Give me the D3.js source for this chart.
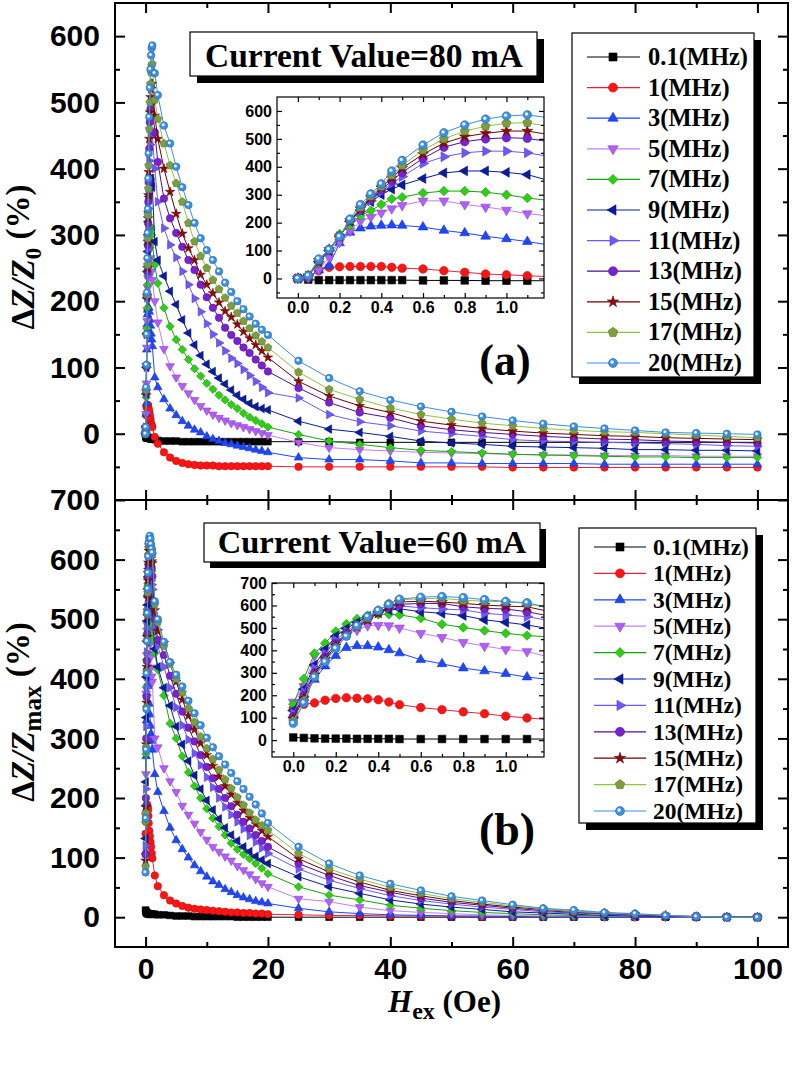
<!DOCTYPE html>
<html>
<head>
<meta charset="utf-8">
<script src="https://cdn.jsdelivr.net/npm/d3@7"></script>
<style>
  body { margin: 0; background: #fff; }
</style>
</head>
<body>
<svg width="792" height="1085"></svg>
<script>
// Значения поля H_ex (Oe), общие для всех кривых
const hex = [0, 0.05, 0.1, 0.15, 0.2, 0.25, 0.3, 0.35, 0.4, 0.45, 0.5,
  0.6, 0.7, 0.8, 0.9, 1.0, 1.1, 1.5, 2,
  3, 4, 5, 6, 7, 8, 9, 10, 11, 12, 13, 14, 15, 16, 17, 18, 19, 20,
  25, 30, 35, 40, 45, 50, 55, 60, 65, 70, 75, 80, 85, 90, 95, 100];

const freqLabels = ["0.1(MHz)", "1(MHz)", "3(MHz)", "5(MHz)", "7(MHz)", "9(MHz)",
  "11(MHz)", "13(MHz)", "15(MHz)", "17(MHz)", "20(MHz)"];

// (a) ток 80 mA, ΔZ/Z0 (%)
const a_f01 = [0,-4,-6,-6,-6,-6,-6,-6,-6,-6,-6, -7,-7,-7,-8,-8,-8, -9,-10,
  -11,-11,-11,-12,-12,-12,-12,-12,-12,-12,-12,-12,-12,-12,-12,-12,-12,-12,
  -12,-12,-13,-13,-13,-13,-13,-13,-13,-13,-13,-13,-13,-13,-13,-13];
const a_f1 = [0,2,28,40,42,43,43,43,43,40,37, 34,28,22,16,13,10, -5,-15,
  -28,-36,-41,-44,-46,-47,-48,-48,-48,-49,-49,-49,-49,-49,-49,-49,-49,-49,
  -50,-50,-50,-50,-50,-50,-50,-51,-51,-51,-51,-51,-51,-51,-51,-51];
const a_f3 = [0,2,30,46,127,165,180,187,190,191,190, 184,172,163,151,142,132, 85,70,
  52,38,28,19,12,6,2,-4,-8,-11,-14,-16,-18,-20,-22,-24,-26,-28,
  -36,-39,-39,-41,-44,-44,-45,-45,-45,-45,-46,-46,-46,-46,-46,-46];
const a_f5 = [0,3,30,76,130,170,205,220,235,250,262, 278,278,265,256,245,232, 200,168,
  128,102,85,72,61,51,42,35,29,24,20,16,13,10,7,4,1,-2,
  -13,-21,-24,-26,-28,-29,-30,-31,-32,-32,-33,-33,-33,-34,-34,-34];
const a_f7 = [0,8,55,100,159,190,225,243,265,285,291, 306,313,313,309,300,288, 255,227,
  190,162,142,127,112,98,87,76,67,58,51,44,38,31,25,20,15,10,
  -1,-11,-16,-21,-25,-27,-29,-31,-32,-33,-34,-35,-35,-36,-36,-36];
const a_f9 = [0,10,60,100,150,205,245,275,300,320,335, 358,378,385,385,380,372, 290,262,
  238,215,195,172,152,134,118,105,94,84,75,66,58,52,46,41,38,36,
  19,7,2,-4,-11,-14,-16,-19,-20,-21,-22,-24,-24,-25,-25,-26];
const a_f11 = [0,10,60,100,150,205,240,278,310,340,365, 412,436,450,456,456,450, 400,350,
  310,285,266,245,225,204,184,166,150,137,125,114,106,97,88,79,70,62,
  54,29,18,12,4,0,-4,-9,-11,-12,-13,-14,-15,-16,-18,-19];
const a_f13 = [0,10,62,102,150,207,245,285,318,350,380, 430,470,490,500,504,502, 455,410,
  355,325,303,282,262,247,225,206,190,175,160,149,140,130,122,112,103,94,
  69,47,32,24,12,6,2,-1,-4,-6,-8,-9,-11,-12,-13,-14];
const a_f15 = [0,10,64,104,150,208,250,290,325,360,395, 445,485,508,520,528,528, 480,445,
  400,365,332,302,280,262,240,225,212,198,185,176,165,154,144,134,125,115,
  79,57,42,32,19,13,8,4,1,-1,-3,-4,-6,-7,-8,-9];
const a_f17 = [0,10,66,104,150,210,255,295,330,370,405, 460,500,528,545,556,558, 504,475,
  438,405,378,350,318,290,268,250,232,218,205,193,182,170,159,148,139,130,
  93,67,52,39,29,22,16,12,8,5,3,2,0,-2,-4,-6];
const a_f20 = [0,10,70,104,150,213,265,303,339,385,423, 478,522,550,571,582,586, 544,511,
  465,438,403,372,345,318,295,277,262,245,228,214,200,188,177,166,157,149,
  110,84,64,51,41,33,26,20,15,11,8,5,2,1,0,-1];

// (b) ток 60 mA, ΔZ/Zmax (%)
const b_f01 = [12,10,8,7,7,7,6,6,6,6,5, 5,5,5,5,5,5, 5,4,
  4,3,2,2,2,1,1,1,1,1,1,1,0,0,0,0,0,0,
  0,0,0,0,0,0,0,0,0,0,0,0,0,0,0,0];
const b_f1 = [140,160,166,178,186,189,187,184,180,170,158, 145,136,126,118,107,99, 70,52,
  37,28,23,19,16,14,13,12,11,10,9,8,8,7,7,6,6,5,
  4,3,3,2,2,2,1,1,1,1,1,0,0,0,0,0];
const b_f3 = [110,190,270,330,376,412,420,420,414,402,388, 358,340,321,308,296,281, 240,210,
  178,150,129,114,100,87,77,68,60,54,47,42,37,33,30,27,25,23,
  15,9,6,4,3,2,2,1,1,1,0,0,0,0,0,0];
const b_f5 = [170,240,375,400,440,470,490,510,512,510,500, 476,458,436,419,404,395, 300,285,
  250,228,210,187,172,157,143,130,118,110,102,95,86,79,72,64,57,51,
  31,26,17,11,8,6,4,3,2,2,1,1,1,0,0,0];
const b_f7 = [160,274,386,432,484,517,540,555,560,561,558, 543,516,502,488,476,466, 443,415,
  372,325,300,270,243,220,200,182,166,152,138,124,114,105,98,90,82,73,
  51,37,29,20,15,11,8,6,4,3,2,2,1,1,0,0];
const b_f9 = [132,227,335,403,463,497,524,551,571,580,585, 572,565,555,536,525,513, 450,420,
  385,355,320,290,262,238,215,196,180,165,150,138,128,118,110,102,96,90,
  68,51,40,29,22,17,13,9,7,5,3,2,1,1,0,0];
const b_f11 = [120,215,320,385,445,485,515,545,570,588,598, 590,584,580,565,558,550, 485,455,
  420,385,352,322,298,275,255,235,218,200,185,172,160,148,137,126,116,107,
  81,62,48,36,28,22,17,13,9,7,5,3,2,1,0,0];
const b_f13 = [105,200,300,370,430,475,510,540,570,592,605, 609,609,594,587,584,572, 500,465,
  440,405,375,345,318,295,272,252,233,215,200,186,172,160,149,138,128,118,
  90,70,53,42,32,25,20,15,11,8,6,4,2,1,0,0];
const b_f15 = [95,185,290,360,420,470,505,535,565,595,615, 619,615,609,602,597,594, 515,480,
  460,425,395,365,338,315,292,272,254,236,220,206,192,179,167,156,145,135,
  98,76,59,45,36,28,22,17,13,10,7,5,3,1,0,0];
const b_f17 = [85,175,285,352,412,465,508,545,578,608,625, 630,632,623,619,616,609, 525,495,
  455,425,400,377,350,327,303,283,265,247,231,216,201,188,175,163,154,146,
  107,81,64,50,40,31,25,19,14,10,7,5,3,1,0,0];
const b_f20 = [75,166,281,349,409,463,510,551,578,605,628, 637,640,635,626,618,612, 530,500,
  462,428,407,387,363,342,322,301,285,270,256,242,228,215,202,189,174,158,
  118,90,70,56,45,35,28,21,15,12,8,6,3,1,0,0];

const seriesA = [a_f01, a_f1, a_f3, a_f5, a_f7, a_f9, a_f11, a_f13, a_f15, a_f17, a_f20];
const seriesB = [b_f01, b_f1, b_f3, b_f5, b_f7, b_f9, b_f11, b_f13, b_f15, b_f17, b_f20];

// Стиль маркеров и линий для каждой частоты
const markerTypes = ["square", "circle", "triangle", "triangle", "diamond", "triangle",
  "triangle", "circle", "star", "pentagon", "sphere"];
const markerRot = [0, 0, 0, 180, 45, -90, 90, 0, 0, 0, 0];
const markerColors = ["#000000", "#ff1414", "#1e46ff", "#b35cff", "#2ccf14", "#0a1c9c",
  "#6e57ff", "#7a22d0", "#8a0c0c", "#7c9e3c", "#3c8fe2"];
const lineColors = ["#000000", "#e8203c", "#1e46ff", "#c27cff", "#17a30a", "#0a1c9c",
  "#6e57ff", "#4a1090", "#700000", "#8cc63f", "#3c8fe2"];

const serif = "'Liberation Serif', 'Times New Roman', serif";
const sans = "'Liberation Sans', Arial, sans-serif";

const svg = d3.select("svg");
svg.append("rect").attr("width", 792).attr("height", 1085).attr("fill", "#fff");

const xMain = d3.scaleLinear().domain([-5, 105]).range([115, 788]);

/**
 * Путь маркера шириной примерно w пикселей.
 */
function markerPath(type, w) {
  if (type === "square") return d3.symbol(d3.symbolSquare, w * w * 0.8)();
  if (type === "circle" || type === "sphere") return d3.symbol(d3.symbolCircle, Math.PI * w * w / 4)();
  if (type === "triangle") return d3.symbol(d3.symbolTriangle, 0.433 * Math.pow(w * 1.15, 2))();
  if (type === "diamond") return d3.symbol(d3.symbolSquare, w * w * 0.62)();
  if (type === "star") return d3.symbol(d3.symbolStar, w * w * 0.5)();
  // пятиугольник
  const r = w * 0.56;
  const pts = d3.range(5).map(i => {
    const a = -Math.PI / 2 + i * 2 * Math.PI / 5;
    return [r * Math.cos(a), r * Math.sin(a)];
  });
  return "M" + pts.join("L") + "Z";
}

function addMarker(sel, k, w) {
  sel.append("path")
    .attr("d", markerPath(markerTypes[k], w))
    .attr("transform", `rotate(${markerRot[k]})`)
    .attr("fill", markerColors[k])
    .attr("stroke", d3.color(markerColors[k]).darker(0.8))
    .attr("stroke-width", 0.6);
  if (markerTypes[k] === "sphere") {
    sel.append("circle")
      .attr("cx", -w * 0.1).attr("cy", -w * 0.1).attr("r", w * 0.2)
      .attr("fill", "#e6f3ff");
  }
}

/**
 * Рисует одну кривую (линия + маркеры) по первым n точкам.
 */
function drawSeries(g, x, y, vals, k, w, n) {
  const pts = vals.slice(0, n).map((v, i) => [hex[i], v]);
  const line = d3.line().x(d => x(d[0])).y(d => y(d[1]));
  g.append("path")
    .attr("d", line(pts))
    .attr("fill", "none")
    .attr("stroke", lineColors[k])
    .attr("stroke-width", 1);
  g.selectAll(null).data(pts).join("g")
    .attr("transform", d => `translate(${x(d[0])},${y(d[1])})`)
    .each(function () { addMarker(d3.select(this), k, w); });
}

/**
 * Рамка с рисками внутрь на всех четырёх сторонах.
 */
function drawFrame(parent, x, y, o) {
  const g = parent.append("g");
  const [xl, xr] = x.range();
  const [yb, yt] = y.range();
  const sides = [
    [d3.axisLeft, y, `translate(${xl},0)`, o.yMajor, o.yMinor, o.yFmt, o.yPad],
    [d3.axisRight, y, `translate(${xr},0)`, o.yMajor, o.yMinor, null, 0],
    [d3.axisTop, x, `translate(0,${yt})`, o.xMajor, o.xMinor, null, 0],
    [d3.axisBottom, x, `translate(0,${yb})`, o.xMajor, o.xMinor, o.xFmt, o.xPad]
  ];
  sides.forEach(([fn, sc, tr, major, minor, fmt, pad]) => {
    g.append("g").attr("transform", tr)
      .call(fn(sc).tickValues(minor).tickSize(-o.small).tickSizeOuter(0).tickFormat(""));
    g.append("g").attr("transform", tr)
      .call(fn(sc).tickValues(major).tickSize(-o.big).tickSizeOuter(0)
        .tickPadding(pad).tickFormat(fmt || ""));
  });
  g.selectAll(".domain").remove();
  g.selectAll(".tick line").attr("stroke", "#000").attr("stroke-width", o.sw);
  g.selectAll(".tick text")
    .style("font-family", sans).style("font-weight", "bold")
    .style("font-size", o.font + "px").attr("fill", "#000");
  g.append("rect")
    .attr("x", xl).attr("y", yt).attr("width", xr - xl).attr("height", yb - yt)
    .attr("fill", "none").attr("stroke", "#000").attr("stroke-width", o.sw);
}

function shadowBox(g, x, y, w, h, off) {
  g.append("rect").attr("x", x + off).attr("y", y + off).attr("width", w).attr("height", h).attr("fill", "#000");
  g.append("rect").attr("x", x).attr("y", y).attr("width", w).attr("height", h)
    .attr("fill", "#fff").attr("stroke", "#000").attr("stroke-width", 1.2);
}

const panels = [
  {
    id: "a", series: seriesA,
    y: d3.scaleLinear().domain([-100, 650]).range([500, 3]),
    yMajor: d3.range(0, 601, 100), yMinor: [-50].concat(d3.range(50, 600, 100)),
    xLabels: false, sub: "0", labelY: 257,
    inset: {
      x: d3.scaleLinear().domain([-0.1, 1.18]).range([277, 544]),
      y: d3.scaleLinear().domain([-70, 650]).range([298, 97]),
      yMajor: d3.range(0, 601, 100), yMinor: [-50].concat(d3.range(50, 600, 100))
    },
    title: { x: 190, y: 32, w: 347, h: 44, off: 7, tx: 364, ty: 67, size: 33.5, text: "Current Value=80 mA" },
    legend: { x: 572, y: 33, w: 182, h: 344, off: 7, y0: 57, dy: 30.6, lx1: 587, lx2: 640, mx: 613, tx: 648, size: 24.5, mw: 9 },
    tag: { x: 505, y: 375, size: 44, text: "(a)" }
  },
  {
    id: "b", series: seriesB,
    y: d3.scaleLinear().domain([-50, 700]).range([947, 500]),
    yMajor: d3.range(0, 701, 100), yMinor: d3.range(50, 700, 100),
    xLabels: true, sub: "max", labelY: 712,
    inset: {
      x: d3.scaleLinear().domain([-0.1, 1.18]).range([272, 544]),
      y: d3.scaleLinear().domain([-75, 700]).range([757, 583]),
      yMajor: d3.range(0, 701, 100), yMinor: [-50].concat(d3.range(50, 700, 100))
    },
    title: { x: 204, y: 523, w: 336, h: 39, off: 6, tx: 372, ty: 553, size: 32.5, text: "Current Value=60 mA" },
    legend: { x: 579, y: 528, w: 177, h: 295, off: 7, y0: 547, dy: 26.4, lx1: 594, lx2: 646, mx: 620, tx: 653, size: 23.5, mw: 9 },
    tag: { x: 507, y: 845, size: 46, text: "(b)" }
  }
];

panels.forEach(p => {
  const g = svg.append("g");
  const [yb, yt] = p.y.range();

  // Основной график
  svg.append("clipPath").attr("id", "clip-" + p.id)
    .append("rect").attr("x", 115).attr("y", yt).attr("width", 673).attr("height", yb - yt);
  const plot = g.append("g").attr("clip-path", `url(#clip-${p.id})`);
  p.series.forEach((vals, k) => drawSeries(plot, xMain, p.y, vals, k, 7.5, hex.length));

  drawFrame(g, xMain, p.y, {
    xMajor: d3.range(0, 101, 20), xMinor: d3.range(10, 100, 20),
    yMajor: p.yMajor, yMinor: p.yMinor,
    yFmt: d3.format("d"), xFmt: p.xLabels ? d3.format("d") : null,
    yPad: 15, xPad: 11, big: 10, small: 5, sw: 2, font: 30
  });

  // Вставка с участком 0..1.1 Oe
  const ins = p.inset;
  const [ixl, ixr] = ins.x.range();
  const [iyb, iyt] = ins.y.range();
  g.append("rect").attr("x", ixl).attr("y", iyt).attr("width", ixr - ixl).attr("height", iyb - iyt).attr("fill", "#fff");
  svg.append("clipPath").attr("id", "iclip-" + p.id)
    .append("rect").attr("x", ixl).attr("y", iyt).attr("width", ixr - ixl).attr("height", iyb - iyt);
  const iplot = g.append("g").attr("clip-path", `url(#iclip-${p.id})`);
  p.series.forEach((vals, k) => drawSeries(iplot, ins.x, ins.y, vals, k, 8.5, 18));
  drawFrame(g, ins.x, ins.y, {
    xMajor: [0, 0.2, 0.4, 0.6, 0.8, 1.0], xMinor: [0.1, 0.3, 0.5, 0.7, 0.9, 1.1],
    yMajor: ins.yMajor, yMinor: ins.yMinor,
    yFmt: d3.format("d"), xFmt: d3.format(".1f"),
    yPad: 5, xPad: 4, big: 5, small: 3, sw: 1.2, font: 16
  });

  // Заголовок с током
  const t = p.title;
  shadowBox(g, t.x, t.y, t.w, t.h, t.off);
  g.append("text").attr("x", t.tx).attr("y", t.ty).attr("text-anchor", "middle")
    .style("font-family", serif).style("font-weight", "bold").style("font-size", t.size + "px")
    .text(t.text);

  // Легенда
  const L = p.legend;
  shadowBox(g, L.x, L.y, L.w, L.h, L.off);
  freqLabels.forEach((label, k) => {
    const yy = L.y0 + k * L.dy;
    g.append("line").attr("x1", L.lx1).attr("x2", L.lx2).attr("y1", yy).attr("y2", yy)
      .attr("stroke", lineColors[k]).attr("stroke-width", 1.2);
    addMarker(g.append("g").attr("transform", `translate(${L.mx},${yy})`), k, L.mw);
    g.append("text").attr("x", L.tx).attr("y", yy).attr("dy", "0.33em")
      .style("font-family", serif).style("font-weight", "bold").style("font-size", L.size + "px")
      .text(label);
  });

  // Метка панели
  g.append("text").attr("x", p.tag.x).attr("y", p.tag.y).attr("text-anchor", "middle")
    .style("font-family", serif).style("font-weight", "bold").style("font-size", p.tag.size + "px")
    .text(p.tag.text);

  // Подпись оси Y
  const yl = g.append("text")
    .attr("transform", `translate(34,${p.labelY}) rotate(-90)`)
    .attr("text-anchor", "middle")
    .style("font-family", serif).style("font-weight", "bold").style("font-size", "33px");
  yl.append("tspan").text("Δ");
  yl.append("tspan").style("font-style", "italic").text("Z/Z");
  yl.append("tspan").attr("dy", 7).style("font-size", p.sub === "0" ? "23px" : "25px").text(p.sub);
  yl.append("tspan").attr("dy", -12).text(" (%)");
});

// Подпись оси X
const xl = svg.append("text").attr("x", 388).attr("y", 1012)
  .style("font-family", serif).style("font-weight", "bold").style("font-size", "31px");
xl.append("tspan").style("font-style", "italic").text("H");
xl.append("tspan").attr("dy", 7).style("font-size", "24px").text("ex");
xl.append("tspan").attr("dy", -7).text(" (Oe)");
</script>
</body>
</html>
